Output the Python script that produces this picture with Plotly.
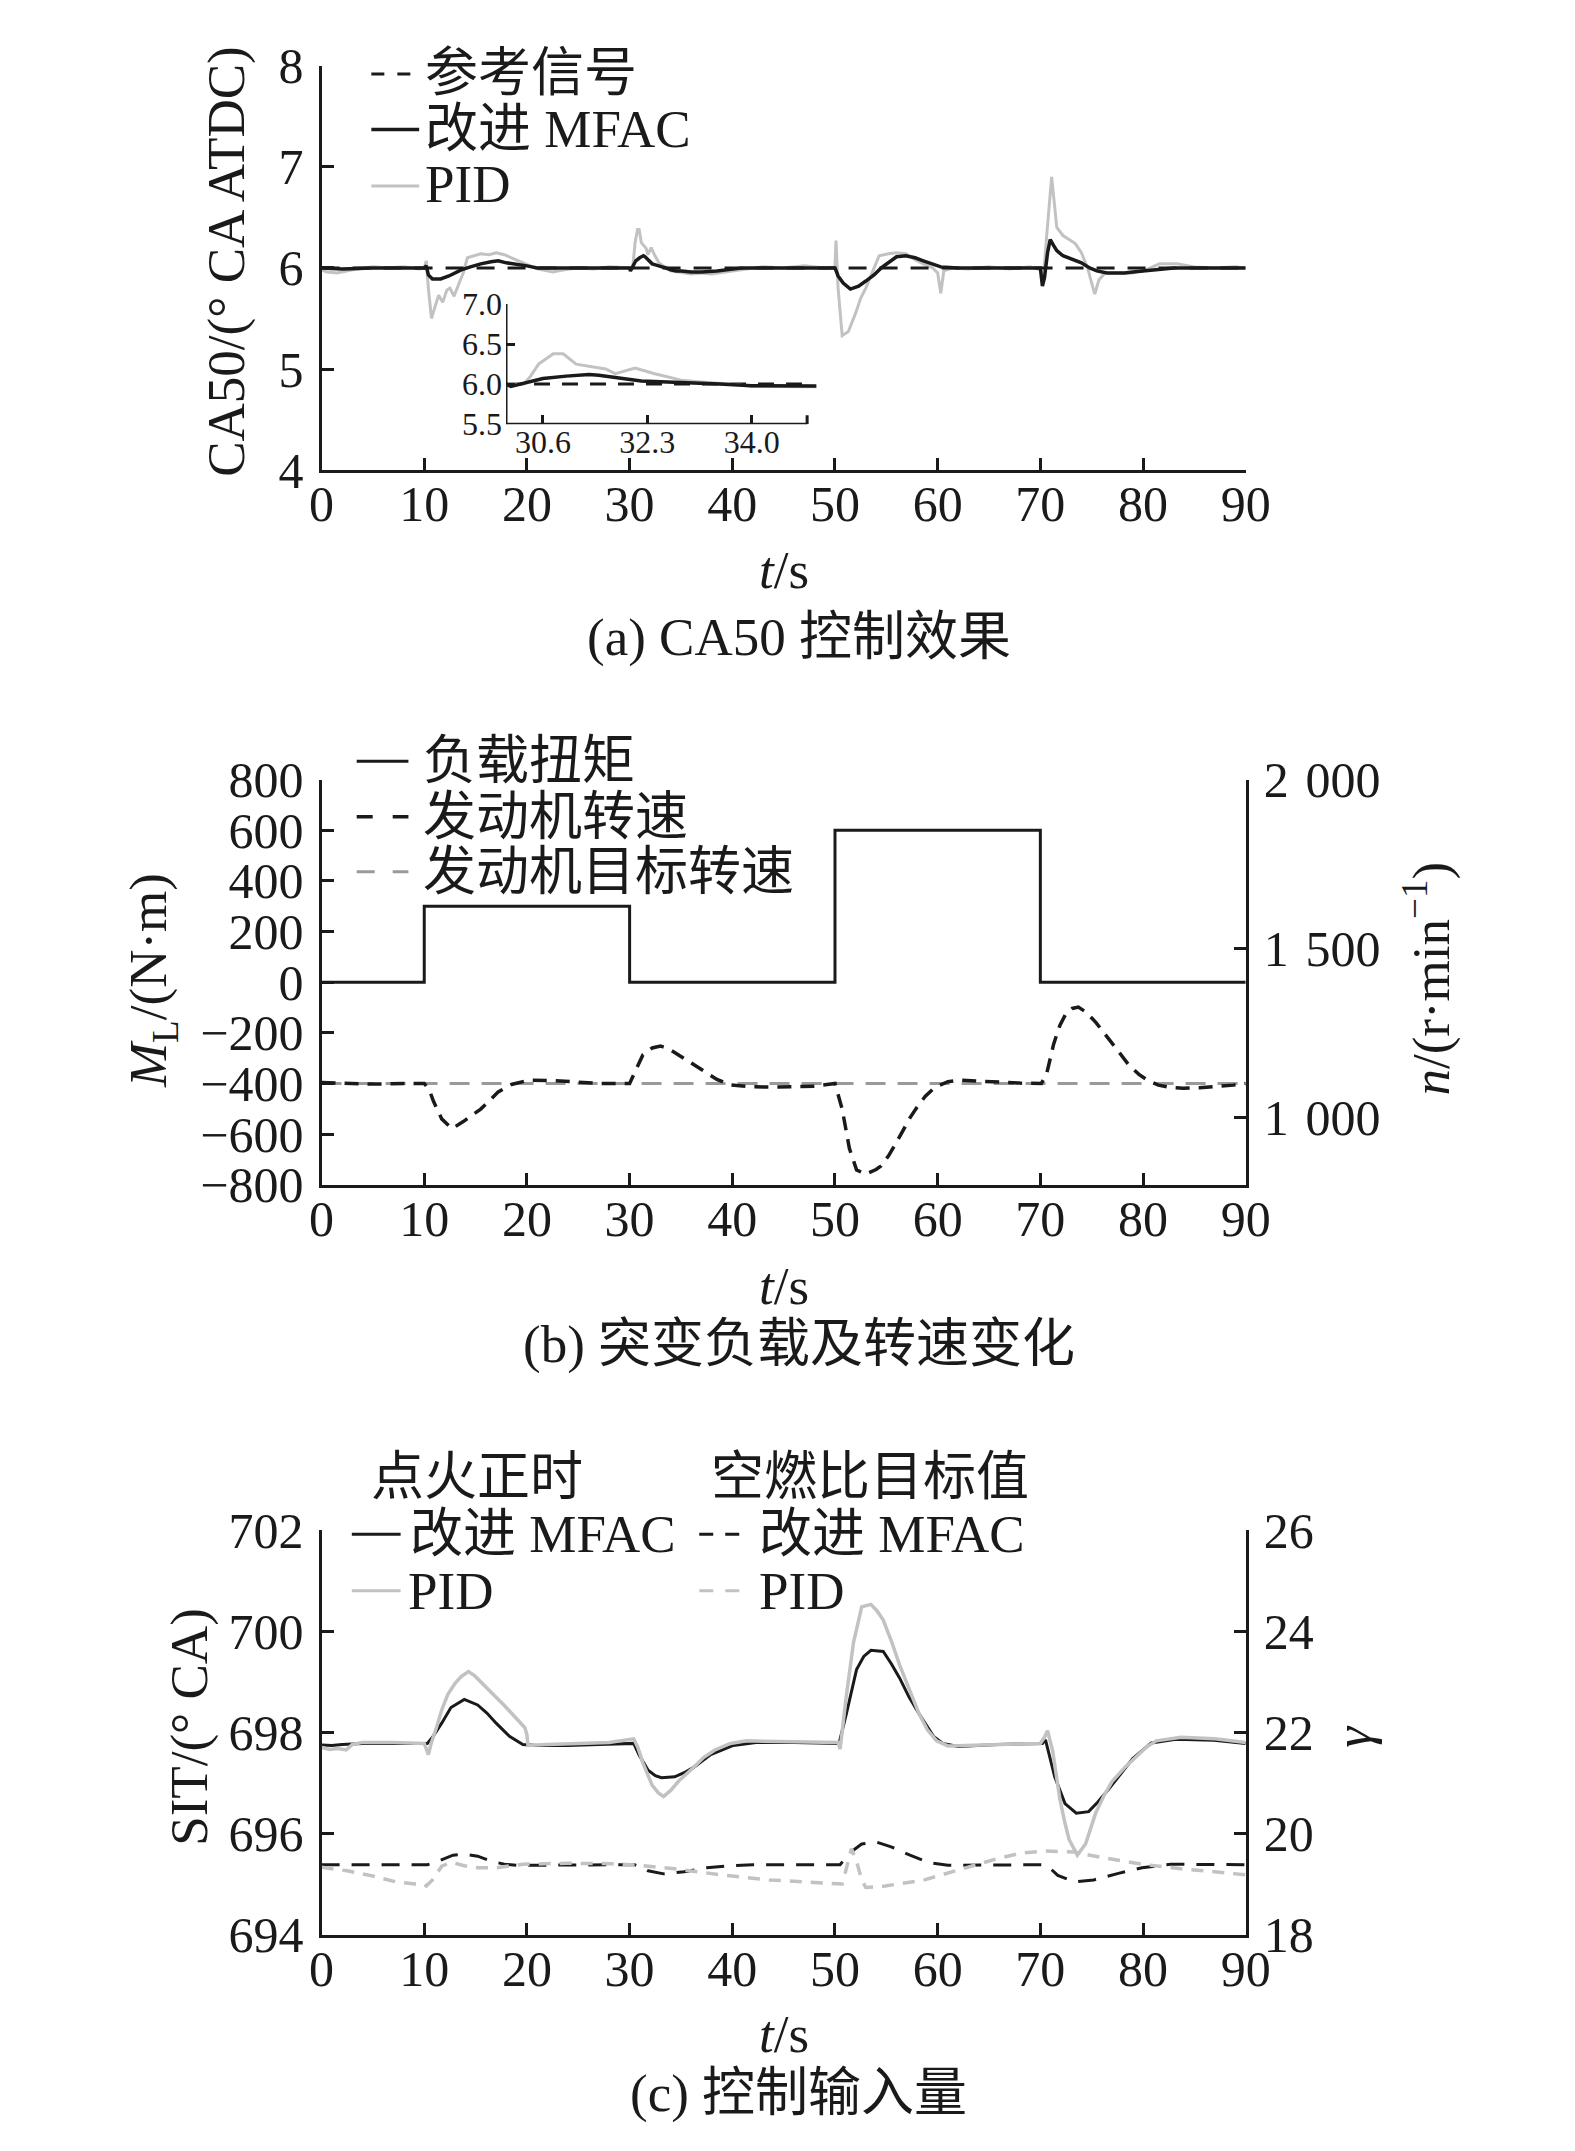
import plotly.graph_objects as go

W, H = 1575, 2151
FONT = "Liberation Serif, Noto Sans CJK SC"
BLACK = "#1a1a1a"
GRAY = "#c2c2c2"
MIDGRAY = "#9a9a9a"

# ---------------- data: panel (a) CA50 ----------------
a_ref_t = [0, 90]
a_ref_v = [6.0, 6.0]

a_mfac_t = [0, 2, 5, 8, 10.0, 10.2, 10.4, 10.8, 11.6, 12.4, 13.0, 13.6, 14.5, 15.5, 16.5, 17.2,
            18.0, 18.8, 20, 21, 25, 30.0, 30.08, 30.29, 30.6, 30.98, 31.35, 31.51, 31.89, 32.2,
            32.52, 32.95, 33.48, 34.0, 34.54, 35.05, 36, 37, 38.5, 41, 45, 50.0, 50.3, 50.8,
            51.5, 52.3, 53.0, 53.8, 54.5, 55.3, 56.0, 56.9, 57.8, 58.6, 59.5, 60.3, 62, 66,
            70.0, 70.2, 70.4, 70.7, 70.96, 71.3, 71.6, 72.2, 72.7, 73.3, 74.0, 74.8, 75.5,
            76.5, 77.5, 78.2, 79, 80, 81.4, 83, 86, 90]
a_mfac_v = [6.0, 5.99, 6.0, 6.0, 6.0, 6.02, 5.93, 5.89, 5.89, 5.92, 5.95, 5.98, 6.01, 6.04, 6.06, 6.07,
            6.05, 6.04, 6.02, 6.0, 6.0, 6.0, 5.97, 6.01, 6.07, 6.10, 6.12, 6.11, 6.07, 6.04,
            6.03, 6.02, 6.0, 5.98, 5.97, 5.97, 5.96, 5.96, 5.97, 6.0, 6.0, 6.0, 5.92, 5.85,
            5.79, 5.82, 5.87, 5.93, 6.0, 6.06, 6.11, 6.12, 6.1, 6.07, 6.04, 6.01, 6.0, 6.0,
            6.0, 5.82, 5.9, 6.15, 6.28, 6.22, 6.17, 6.12, 6.1, 6.08, 6.05, 6.0, 5.97,
            5.95, 5.95, 5.95, 5.96, 5.97, 5.98, 6.0, 6.0, 6.0]

a_pid_t = [0, 0.5, 1.5, 2.5, 3.5, 5, 6.5, 8, 9.5, 10.0, 10.2, 10.4, 10.7, 11.0, 11.4, 11.8, 12.2,
           12.5, 12.9, 13.4, 13.8, 14.2, 14.8, 15.5, 16.3, 17.0, 17.8, 18.5, 19.5, 20.3, 21.0,
           22.5, 23.5, 25, 26.5, 28, 29.5, 30.0, 30.29, 30.4, 30.53, 30.77, 30.93, 31.14, 31.4,
           31.62, 31.78, 32.1, 32.42, 32.85, 33.28, 33.7, 34.0, 34.6, 35.05, 36, 37, 38, 39.3,
           41, 43, 45, 47, 49, 50.0, 50.1, 50.3, 50.7, 51.3, 52.0, 52.5, 53.0, 53.7, 54.3,
           55.2, 56.0, 56.9, 57.8, 58.6, 59.5, 60.0, 60.3, 60.6, 61.5, 63, 65, 67, 69, 70.0,
           70.3, 70.6, 71.1, 71.6, 72.2, 72.8, 73.4, 74.0, 74.6, 75.0, 75.3, 75.7, 76.3, 77.5,
           79, 80.5, 81.6, 83.3, 85, 87, 89, 90]
a_pid_v = [5.98, 5.96, 5.95, 5.97, 5.99, 6.01, 6.0, 6.01, 5.99, 6.0, 6.07, 5.8, 5.5, 5.6, 5.73, 5.66, 5.78,
           5.8, 5.72, 5.85, 5.95, 6.1, 6.12, 6.14, 6.13, 6.15, 6.13, 6.1, 6.05, 6.02, 5.99,
           5.96, 5.98, 6.0, 5.99, 6.01, 6.0, 6.0, 6.0, 6.1, 6.25, 6.38, 6.38, 6.25, 6.22,
           6.19, 6.13, 6.2, 6.13, 6.05, 6.02, 6.0, 5.97, 5.96, 5.95, 5.94, 5.95, 5.94, 5.96,
           5.98, 6.01, 6.0, 6.02, 6.0, 6.01, 6.27, 5.8, 5.33, 5.37, 5.55, 5.7, 5.8, 5.98, 6.12,
           6.14, 6.15, 6.14, 6.08, 6.04, 6.0, 5.95, 5.75, 5.97, 6.0, 5.99, 6.01, 5.99, 6.01, 5.98,
           5.9, 6.3, 6.9, 6.4, 6.32, 6.28, 6.24, 6.15, 6.0, 5.85, 5.74, 5.88, 5.95, 5.95,
           5.95, 5.99, 6.04, 6.04, 6.01, 6.0, 6.01, 6.0]

a_xticks = [0, 10, 20, 30, 40, 50, 60, 70, 80, 90]
a_yticks = [4, 5, 6, 7, 8]
inset_xticks = [30.6, 32.3, 34.0]
inset_xlabels = ["30.6", "32.3", "34.0"]
inset_xend = 34.9
inset_yticks = [5.5, 6.0, 6.5, 7.0]
inset_ylabels = ["5.5", "6.0", "6.5", "7.0"]

# ---------------- data: panel (b) load & speed ----------------
b_torque_t = [0, 10, 10, 30, 30, 50, 50, 70, 70, 90]
b_torque_v = [0, 0, 300, 300, 0, 0, 600, 600, 0, 0]
b_target_t = [0, 90]
b_target_v = [1100, 1100]
b_speed_t = [0, 2, 5, 8, 10, 10.5, 10.9, 11.7, 12.7, 13.8, 14.6, 15.5, 16.4, 17.2, 18.5, 20.2,
             22.8, 25, 27, 30, 30.6, 31.3, 32.2, 33.0, 33.8, 34.7, 35.8, 36.8, 37.7, 38.5, 39.8,
             41.9, 44, 46.2, 48, 50.0, 50.7, 51.4, 52.1, 53.0, 54.0, 54.5, 55.2, 55.9, 56.6, 57.3,
             58.0, 58.8, 59.5, 60.2, 61, 62.1, 64, 65.9, 68, 70.1, 70.6, 71.3, 71.9, 72.5, 73.1,
             73.7, 74.5, 75.4, 76.5, 77.7, 78.6, 79.6, 80.5, 81.5, 82.7, 83.9, 85.5, 87.2, 88.8, 90]
b_speed_v = [1103, 1100, 1098, 1100, 1100, 1080, 1047, 995, 966, 987, 1005, 1024, 1050, 1075, 1097, 1110,
             1108, 1104, 1100, 1100, 1140, 1185, 1205, 1211, 1203, 1185, 1163, 1145, 1126, 1112, 1096,
             1090, 1089, 1090, 1092, 1100, 1024, 908, 844, 831, 845, 856, 885, 921, 960, 998,
             1030, 1062, 1082, 1095, 1105, 1110, 1107, 1104, 1101, 1100, 1127, 1217, 1272, 1307, 1322,
             1326, 1310, 1281, 1236, 1191, 1155, 1127, 1108, 1095, 1088, 1086, 1087, 1090, 1095, 1100]
b_lticks = [-800, -600, -400, -200, 0, 200, 400, 600, 800]
b_llabels = ["\u2212800", "\u2212600", "\u2212400", "\u2212200", "0", "200", "400", "600", "800"]
b_rticks = [1000, 1500, 2000]
b_rlabels = ["1\u2004000", "1\u2004500", "2\u2004000"]

# ---------------- data: panel (c) control inputs ----------------
c_sit_mfac_t = [0, 1, 2, 4, 10.3, 10.8, 11.7, 12.6, 13.9, 15.2, 16.1, 17.0, 18.3, 19.6, 21, 23.9, 27,
                30.4, 30.9, 31.8, 32.5, 33.1, 34.4, 35.3, 36.2, 37.9, 40.1, 42.3, 46, 50.4, 51.1,
                52.1, 52.8, 53.5, 54.7, 55.5, 56.3, 57.2, 58.2, 59.6, 60.5, 62.0, 65.8, 70.2, 70.5,
                70.8, 71.4, 72.4, 73.5, 74.7, 75.6, 76.6, 77.8, 79.0, 80.8, 83.2, 86.9, 90]
c_sit_mfac_v = [697.75, 697.74, 697.76, 697.78, 697.78, 697.9, 698.18, 698.49, 698.65, 698.54, 698.38,
                698.18, 697.92, 697.76, 697.74, 697.74, 697.76, 697.78, 697.56, 697.25, 697.14, 697.1,
                697.12, 697.2, 697.3, 697.56, 697.74, 697.8, 697.8, 697.78, 698.36, 699.24, 699.5,
                699.62, 699.6, 699.35, 699.07, 698.7, 698.36, 697.92, 697.78, 697.72, 697.76, 697.78,
                697.85, 697.6, 697.12, 696.59, 696.4, 696.43, 696.62, 696.86, 697.17, 697.48, 697.79,
                697.86, 697.84, 697.78]
c_sit_pid_t = [0, 0.8, 1.6, 2.4, 3, 4, 7, 10.0, 10.4, 10.7, 11.2, 11.7, 12.3, 13.0, 13.6, 14.3, 14.9,
               15.6, 16.7, 17.8, 18.8, 19.8, 20.0, 20.1, 22, 25, 28, 30.4, 30.8, 31.3, 32.2, 32.8,
               33.3, 34.0, 34.8, 36.2, 37.2, 38.3, 39.8, 41.4, 45, 48, 50.3, 50.5, 51.1, 51.8, 52.6,
               53.5, 54.1, 54.7, 55.5, 56.3, 57.2, 58.2, 59.0, 59.9, 61.0, 63, 66, 70.0, 70.4, 70.7,
               71.2, 71.9, 72.4, 72.8, 73.6, 74.4, 74.9, 75.4, 76.2, 77.0, 78.3, 79.5, 80.4, 81.3,
               83.7, 87, 90]
c_sit_pid_v = [697.7, 697.66, 697.68, 697.65, 697.76, 697.8, 697.8, 697.78, 697.56, 697.8, 698.1, 698.44,
               698.75, 698.97, 699.1, 699.2, 699.12, 698.97, 698.75, 698.53, 698.3, 698.09, 697.95,
               697.74, 697.76, 697.78, 697.8, 697.87, 697.7, 697.39, 696.95, 696.8, 696.73, 696.85,
               697.04, 697.3, 697.5, 697.65, 697.78, 697.83, 697.82, 697.8, 697.8, 697.67, 698.71,
               699.77, 700.48, 700.53, 700.4, 700.22, 699.8, 699.33, 698.85, 698.36, 698.05, 697.83,
               697.73, 697.74, 697.77, 697.78, 697.9, 698.03, 697.63, 696.68, 696.2, 695.88, 695.57,
               695.79, 696.1, 696.41, 696.75, 697.03, 697.32, 697.56, 697.72, 697.83, 697.9, 697.87,
               697.8]
c_afr_mfac_t = [0, 10.3, 11.0, 11.7, 12.8, 13.9, 15.2, 16.5, 17.8, 19, 30.5, 31.2, 31.8, 33.3, 35.3,
                37.5, 39.7, 42, 50.5, 51.4, 52.6, 54.0, 55.4, 57.3, 59.2, 61.0, 65, 70.4, 71.0, 71.7,
                73.3, 75.2, 77.6, 79.9, 82.7, 90]
c_afr_mfac_v = [19.38, 19.38, 19.42, 19.48, 19.57, 19.59, 19.55, 19.45, 19.39, 19.37, 19.38, 19.32,
                19.26, 19.2, 19.24, 19.32, 19.36, 19.38, 19.38, 19.61, 19.79, 19.83, 19.74, 19.57,
                19.42, 19.37, 19.38, 19.38, 19.3, 19.17, 19.04, 19.08, 19.21, 19.32, 19.39, 19.38]
c_afr_pid_t = [0, 2.5, 4.7, 7.3, 9.1, 10.0, 10.2, 10.8, 11.7, 12.6, 13.9, 15.2, 17.0, 19.6, 23.9, 28.2,
               30.9, 34.8, 39.3, 43.6, 48, 50.7, 51.1, 51.6, 52.1, 52.6, 53.0, 54.9, 58.7, 62.5, 65.8,
               68.1, 70.5, 73.3, 76.1, 79.9, 83.7, 87, 90]
c_afr_pid_v = [19.33, 19.26, 19.17, 19.04, 19.0, 19.0, 18.96, 19.08, 19.35, 19.43, 19.36, 19.32, 19.32,
               19.39, 19.41, 19.4, 19.37, 19.29, 19.17, 19.08, 19.03, 19.0, 19.3, 19.7, 19.45, 19.08,
               18.93, 18.96, 19.08, 19.3, 19.5, 19.61, 19.65, 19.63, 19.52, 19.39, 19.3, 19.24, 19.18]
c_lticks = [694, 696, 698, 700, 702]
c_rticks = [18, 20, 22, 24, 26]


def px(x):
    return x / W


def py(y):
    return 1 - y / H


fig = go.Figure()

# panel a
fig.add_trace(go.Scatter(x=a_pid_t, y=a_pid_v, mode="lines", line=dict(color=GRAY, width=3),
                         xaxis="x", yaxis="y"))
fig.add_trace(go.Scatter(x=a_ref_t, y=a_ref_v, mode="lines",
                         line=dict(color=BLACK, width=3, dash="18px,13px"), xaxis="x", yaxis="y"))
fig.add_trace(go.Scatter(x=a_mfac_t, y=a_mfac_v, mode="lines", line=dict(color=BLACK, width=3.5),
                         xaxis="x", yaxis="y"))
# inset
fig.add_trace(go.Scatter(x=[30, inset_xend], y=a_ref_v, mode="lines",
                         line=dict(color=BLACK, width=3, dash="16px,12px"), xaxis="x4", yaxis="y6"))
fig.add_trace(go.Scatter(x=a_pid_t, y=a_pid_v, mode="lines", line=dict(color=GRAY, width=3),
                         xaxis="x4", yaxis="y6"))
fig.add_trace(go.Scatter(x=a_mfac_t, y=a_mfac_v, mode="lines", line=dict(color=BLACK, width=3.5),
                         xaxis="x4", yaxis="y6"))

# panel b
fig.add_trace(go.Scatter(x=b_torque_t, y=b_torque_v, mode="lines", line=dict(color=BLACK, width=3),
                         xaxis="x2", yaxis="y2"))
fig.add_trace(go.Scatter(x=b_target_t, y=b_target_v, mode="lines",
                         line=dict(color=MIDGRAY, width=3, dash="20px,12px"), xaxis="x2", yaxis="y3"))
fig.add_trace(go.Scatter(x=b_speed_t, y=b_speed_v, mode="lines",
                         line=dict(color=BLACK, width=3.5, dash="14px,9px"), xaxis="x2", yaxis="y3"))

# panel c
fig.add_trace(go.Scatter(x=c_sit_mfac_t, y=c_sit_mfac_v, mode="lines", line=dict(color=BLACK, width=3),
                         xaxis="x3", yaxis="y4"))
fig.add_trace(go.Scatter(x=c_sit_pid_t, y=c_sit_pid_v, mode="lines", line=dict(color=GRAY, width=3.5),
                         xaxis="x3", yaxis="y4"))
fig.add_trace(go.Scatter(x=c_afr_mfac_t, y=c_afr_mfac_v, mode="lines",
                         line=dict(color=BLACK, width=3, dash="18px,12px"), xaxis="x3", yaxis="y5"))
fig.add_trace(go.Scatter(x=c_afr_pid_t, y=c_afr_pid_v, mode="lines",
                         line=dict(color=GRAY, width=3.5, dash="12px,9px"), xaxis="x3", yaxis="y5"))


def ax(domain, rng, tickvals, ticktext=None, size=50, standoff=12, showline=True, **kw):
    d = dict(domain=domain, range=rng, showgrid=False, zeroline=False, showline=showline,
             linecolor=BLACK, linewidth=3, ticks="inside", ticklen=12, tickwidth=3,
             tickcolor=BLACK, tickvals=tickvals, tickfont=dict(family=FONT, size=size, color=BLACK),
             ticklabelstandoff=standoff, fixedrange=True)
    if ticktext is not None:
        d["ticktext"] = ticktext
    d.update(kw)
    return d


XD = [px(308), px(1255)]
ya_dom = [py(446), py(30.4)]
yb_dom = [py(1180), py(763.8)]
yc_dom = [py(1950.2), py(1534.7)]

XS = -12   # x tick label standoff
YS = 5     # y tick label standoff

layout = dict(
    width=W, height=H, margin=dict(l=0, r=0, t=0, b=0), showlegend=False,
    paper_bgcolor="white", plot_bgcolor="rgba(0,0,0,0)",
    font=dict(family=FONT, color=BLACK),
    xaxis=ax(XD, [0, 90], a_xticks, anchor="y", standoff=XS),
    yaxis=ax(ya_dom, [4, 8], a_yticks, anchor="x", standoff=YS),
    xaxis2=ax(XD, [0, 90], a_xticks, anchor="y2", standoff=XS),
    yaxis2=ax(yb_dom, [-800, 800], b_lticks, b_llabels, anchor="x2", standoff=YS),
    yaxis3=ax(yb_dom, [800, 2000], b_rticks, b_rlabels, anchor="x2", overlaying="y2",
              side="right", standoff=YS),
    xaxis3=ax(XD, [0, 90], a_xticks, anchor="y4", standoff=XS),
    yaxis4=ax(yc_dom, [694, 702], c_lticks, anchor="x3", standoff=YS),
    yaxis5=ax(yc_dom, [18, 26], c_rticks, anchor="x3", overlaying="y4", side="right", standoff=YS),
    xaxis4=ax([px(497), px(815)], [30, 35.05], inset_xticks, inset_xlabels, size=32,
              showline=False, anchor="y6", standoff=-4, ticklen=9),
    yaxis6=ax([py(398.7), py(275.4)], [5.5, 7.0], inset_yticks, inset_ylabels, size=32,
              showline=False, anchor="x4", standoff=3, ticklen=9),
)
fig.update_layout(**layout)

shapes = []
# inset axis lines and end tick
shapes.append(dict(type="line", xref="x4", yref="y6", x0=30, x1=30, y0=5.5, y1=7.0,
                   line=dict(color=BLACK, width=3)))
shapes.append(dict(type="line", xref="x4", yref="y6", x0=30, x1=inset_xend, y0=5.5, y1=5.5,
                   line=dict(color=BLACK, width=3)))
shapes.append(dict(type="line", xref="x4", yref="y6", x0=inset_xend, x1=inset_xend, y0=5.5, y1=5.61,
                   line=dict(color=BLACK, width=3)))


def leg_line(x0, x1, y, color, dash="solid", width=3):
    shapes.append(dict(type="line", xref="paper", yref="paper", x0=px(x0), x1=px(x1),
                       y0=py(y), y1=py(y), line=dict(color=color, width=width, dash=dash)))


annotations = []


def txt(x, y, s, size=53, xanchor="left", angle=0, yanchor="middle"):
    annotations.append(dict(x=px(x), y=py(y), xref="paper", yref="paper", text=s, showarrow=False,
                            xanchor=xanchor, yanchor=yanchor, textangle=angle,
                            font=dict(family=FONT, size=size, color=BLACK)))


# legend a
leg_line(359, 408, 39, BLACK, "13px,13px")
txt(412, 38, "参考信号")
leg_line(359, 408, 96, BLACK, width=3.5)
txt(412, 96, "改进 MFAC")
leg_line(359, 408, 154, GRAY)
txt(412, 152, "PID")

# legend b
leg_line(344, 397, 745, BLACK)
txt(410, 745, "负载扭矩")
leg_line(344, 397, 802, BLACK, "16px,20px", width=3.5)
txt(410, 802, "发动机转速")
leg_line(344, 397, 858.5, MIDGRAY, "18px,18px")
txt(410, 858.5, "发动机目标转速")

# legend c
txt(357, 1480.5, "点火正时")
txt(705, 1480.5, "空燃比目标值")
leg_line(339, 389, 1539, BLACK)
txt(397, 1539, "改进 MFAC")
leg_line(695, 747, 1539, BLACK, "14px,12px")
txt(754, 1539, "改进 MFAC")
leg_line(339, 389, 1597, GRAY)
txt(395, 1597, "PID")
leg_line(695, 747, 1597, GRAY, "14px,12px")
txt(754, 1597, "PID")

# axis titles
txt(211, 231, "CA50/(° CA ATDC)", xanchor="center", angle=-90)
txt(135, 970, "<i>M</i><sub>L</sub>/(N·m)", xanchor="center", angle=-90)
txt(1441, 968, "<i>n</i>/(r·min<sup>−1</sup>)", xanchor="center", angle=-90)
txt(173, 1737, "SIT/(° CA)", xanchor="center", angle=-90)
txt(1365, 1747, "<i>γ</i>", xanchor="center", angle=-90)
for yy in (549, 1284, 2052):
    txt(782, yy, "<i>t</i>/s", xanchor="center")

# captions
txt(797, 618, "(a) CA50 控制效果", xanchor="center")
txt(797, 1344, "(b) 突变负载及转速变化", xanchor="center")
txt(797, 2114, "(c) 控制输入量", xanchor="center")

fig.update_layout(shapes=shapes, annotations=annotations)
fig.write_html("out.html")
